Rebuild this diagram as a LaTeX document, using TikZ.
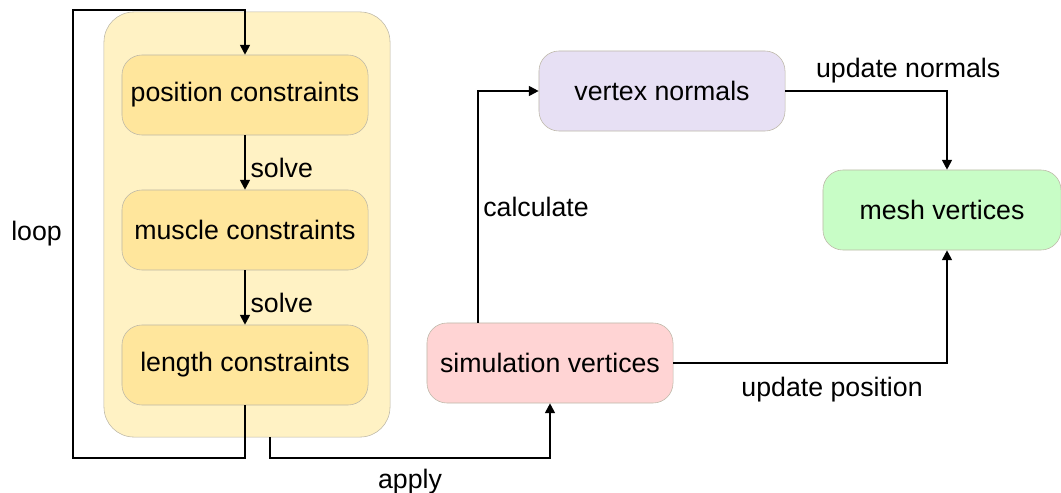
\documentclass[tikz,border=0pt]{standalone}
\usepackage{fontspec}
\setmainfont{Liberation Sans}
\usetikzlibrary{arrows.meta,calc}

\definecolor{boxfill}{HTML}{FFF2C4}
\definecolor{cstrfill}{HTML}{FFE69C}
\definecolor{normfill}{HTML}{E7E0F4}
\definecolor{meshfill}{HTML}{C8FDC6}
\definecolor{simfill}{HTML}{FFD4D4}
\definecolor{edge}{HTML}{BDB8A8}

\tikzset{
  block/.style={draw=edge, rounded corners=0.5cm, minimum width=6.15cm,
    minimum height=2cm, font=\fontsize{19}{23}\selectfont},
  conn/.style={line width=1.3pt, -{Triangle[length=7pt,width=7pt]}},
  lbl/.style={font=\fontsize{19}{23}\selectfont}
}

\begin{document}
\begin{tikzpicture}[x=0.025cm, y=-0.025cm]
    \useasboundingbox (0,0) rectangle (1061,493);

    % Conteneur des contraintes
    \node[draw=edge, fill=boxfill, rounded corners=0.75cm,
      minimum width=7.15cm, minimum height=10.625cm] (ctr) at (247,224.5) {};

    % Blocs
    \node[block, fill=cstrfill] (pc) at (245,95) {position constraints};
    \node[block, fill=cstrfill] (mc) at (245,230) {muscle constraints};
    \node[block, fill=cstrfill] (lc) at (245,365) {length constraints};
    \node[block, fill=normfill] (vn) at (662,91) {vertex normals};
    \node[block, fill=meshfill, minimum width=5.95cm] (mv) at (942,210) {mesh vertices};
    \node[block, fill=simfill] (sv) at (550,363) {simulation vertices};

    % Points de la boucle
    \coordinate (loopbot) at (73,458);
    \coordinate (looptop) at (73,10);

    % Flèches
    \draw[conn] (pc) -- node[right, yshift=-4pt, lbl] {solve} (mc);
    \draw[conn] (mc) -- node[right, yshift=-4pt, lbl] {solve} (lc);
    \draw[conn] (lc.south) |- (loopbot) -- node[left, xshift=-4pt, lbl] {loop} (looptop) -| (pc.north);
    \draw[conn] ($(ctr.south)+(23,0)$) -- ++(0,21) -| node[pos=0.25, below=4pt, lbl] {apply} (sv.south);
    \draw[conn] ($(sv.north west)+(51,0)$) |- node[pos=0.25, right, lbl] {calculate} (vn.west);
    \draw[conn] (vn.east) -| node[pos=0.38, above=2pt, lbl] {update normals} ($(mv.north)+(5,0)$);
    \draw[conn] (sv.east) -| node[pos=0.29, below=6pt, lbl] {update position} ($(mv.south)+(5,0)$);
\end{tikzpicture}
\end{document}
